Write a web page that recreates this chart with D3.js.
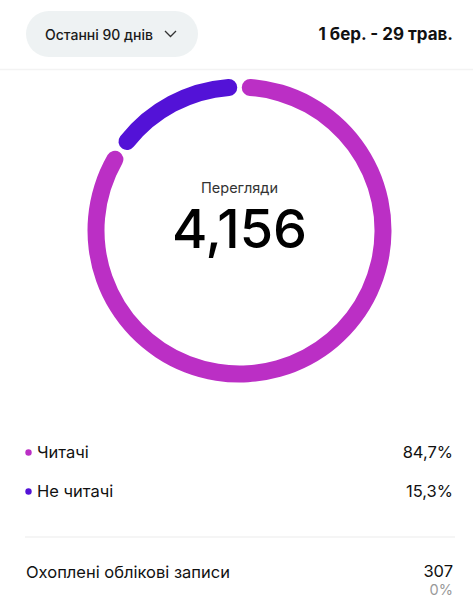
<!DOCTYPE html>
<html lang="uk">
<head>
<meta charset="UTF-8">
<title>Перегляди</title>
<script src="https://cdn.jsdelivr.net/npm/d3@7"></script>
<style>
  body { margin: 0; background: #fff; }
  svg { display: block; font-family: Inter, Roboto, "Noto Sans", sans-serif; }
</style>
</head>
<body>
<svg id="chart" width="473" height="601"></svg>
<script>
// data
const categories = ["Читачі", "Не читачі"];
const shares = [84.7, 15.3];
const shareLabels = ["84,7%", "15,3%"];
const totalViews = 4156;
const reachLabel = "Охоплені облікові записи";
const reachValue = 307;
const reachChange = "0%";
const periodLabel = "Останні 90 днів";
const rangeLabel = "1 бер. - 29 трав.";

const colors = d3.scaleOrdinal().domain(categories).range(["#bb2fc5", "#5312d7"]);

const svg = d3.select("#chart");
const W = 473;

// top separator
svg.append("line").attr("x1", 0).attr("x2", W).attr("y1", 69.5).attr("y2", 69.5)
  .attr("stroke", "#f3f3f3").attr("stroke-width", 1.5);

// period pill
svg.append("rect").attr("x", 26).attr("y", 11).attr("width", 172).attr("height", 46)
  .attr("rx", 23).attr("fill", "#eef2f3");
svg.append("text").attr("x", 45).attr("y", 40).attr("font-size", 14).attr("font-weight", 500)
  .attr("fill", "#1a1a1a").text(periodLabel);
svg.append("path").attr("d", "M165,31 l5.5,5.5 l5.5,-5.5").attr("fill", "none")
  .attr("stroke", "#333").attr("stroke-width", 1.3);

svg.append("text").attr("x", 453).attr("y", 40).attr("text-anchor", "end")
  .attr("font-size", 17).attr("font-weight", 700).attr("fill", "#111").text(rangeLabel);

// donut
const cx = 239.5, cy = 230.5;
const pie = d3.pie().sort(null).padAngle(0.022)(shares);
const arc = d3.arc().innerRadius(135).outerRadius(152).cornerRadius(8.5);
const g = svg.append("g").attr("transform", `translate(${cx},${cy})`);
g.selectAll("path").data(pie).join("path")
  .attr("d", arc)
  .attr("fill", (d, i) => colors(categories[i]));

g.append("text").attr("y", -38).attr("text-anchor", "middle").attr("font-size", 14.5)
  .attr("fill", "#333").text("Перегляди");
g.append("text").attr("y", 17).attr("text-anchor", "middle").attr("font-size", 54)
  .attr("font-weight", 500).attr("fill", "#000").text(d3.format(",")(totalViews));

// legend
const rowY = d3.scalePoint().domain(categories).range([458, 497]);
const rows = svg.selectAll("g.row").data(categories).join("g").attr("class", "row")
  .attr("transform", d => `translate(0,${rowY(d)})`);
rows.append("circle").attr("cx", 28.5).attr("cy", -5.5).attr("r", 3.2)
  .attr("fill", d => colors(d));
rows.append("text").attr("x", 37).attr("font-size", 16.5).attr("fill", "#111").text(d => d);
rows.append("text").attr("x", 453).attr("text-anchor", "end").attr("font-size", 16.5)
  .attr("fill", "#111").text((d, i) => shareLabels[i]);

svg.append("line").attr("x1", 25).attr("x2", 455).attr("y1", 537).attr("y2", 537)
  .attr("stroke", "#f2f2f2").attr("stroke-width", 1.5);

// reached accounts
svg.append("text").attr("x", 26).attr("y", 578).attr("font-size", 16.5).attr("fill", "#111")
  .text(reachLabel);
svg.append("text").attr("x", 453).attr("y", 577).attr("text-anchor", "end").attr("font-size", 16.5)
  .attr("fill", "#111").text(reachValue);
svg.append("text").attr("x", 453).attr("y", 595).attr("text-anchor", "end").attr("font-size", 14.5)
  .attr("fill", "#999").text(reachChange);
</script>
</body>
</html>
